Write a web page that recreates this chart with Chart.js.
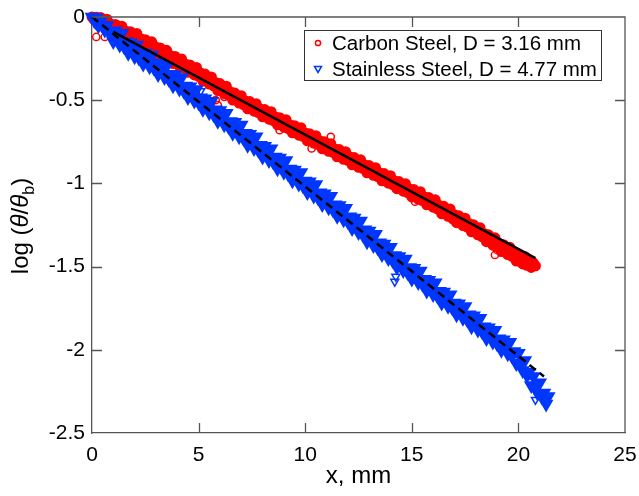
<!DOCTYPE html>
<html>
<head>
<meta charset="utf-8">
<script src="https://cdn.jsdelivr.net/npm/chart.js@4.4.0/dist/chart.umd.min.js"></script>
<style>
  html, body { margin: 0; padding: 0; background: #fff; }
</style>
</head>
<body>
<canvas id="chart" width="639" height="496"></canvas>
<script>
// carbon steel, D = 3.16 mm (red circles) - main band
const carbonX = [0,0.1,0.2,0.3,0.4,0.5,0.6,0.7,0.8,0.9,
  1,1.1,1.2,1.3,1.4,1.5,1.6,1.7,1.8,1.9, 2,2.1,2.2,2.3,2.4,2.5,2.6,2.7,2.8,2.9,
  3,3.1,3.2,3.3,3.4,3.5,3.6,3.7,3.8,3.9, 4,4.1,4.2,4.3,4.4,4.5,4.6,4.7,4.8,4.9,
  5,5.1,5.2,5.3,5.4,5.5,5.6,5.7,5.8,5.9, 6,6.1,6.2,6.3,6.4,6.5,6.6,6.7,6.8,6.9,
  7,7.1,7.2,7.3,7.4,7.5,7.6,7.7,7.8,7.9, 8,8.1,8.2,8.3,8.4,8.5,8.6,8.7,8.8,8.9,
  9,9.1,9.2,9.3,9.4,9.5,9.6,9.7,9.8,9.9, 10,10.1,10.2,10.3,10.4,10.5,10.6,10.7,10.8,10.9,
  11,11.1,11.2,11.3,11.4,11.5,11.6,11.7,11.8,11.9, 12,12.1,12.2,12.3,12.4,12.5,12.6,12.7,12.8,12.9,
  13,13.1,13.2,13.3,13.4,13.5,13.6,13.7,13.8,13.9, 14,14.1,14.2,14.3,14.4,14.5,14.6,14.7,14.8,14.9,
  15,15.1,15.2,15.3,15.4,15.5,15.6,15.7,15.8,15.9, 16,16.1,16.2,16.3,16.4,16.5,16.6,16.7,16.8,16.9,
  17,17.1,17.2,17.3,17.4,17.5,17.6,17.7,17.8,17.9, 18,18.1,18.2,18.3,18.4,18.5,18.6,18.7,18.8,18.9,
  19,19.1,19.2,19.3,19.4,19.5,19.6,19.7,19.8,19.9, 20,20.1,20.2,20.3,20.4,20.5,20.6,20.7,20.8];
const carbonY = [0.000,-0.015,-0.002,-0.048,-0.003,-0.037,-0.059,-0.013,-0.065,-0.043,
  -0.089,-0.045,-0.079,-0.101,-0.055,-0.107,-0.086,-0.132,-0.088,-0.122,
  -0.144,-0.099,-0.152,-0.131,-0.179,-0.136,-0.171,-0.194,-0.149,-0.202,
  -0.181,-0.228,-0.186,-0.221,-0.244,-0.200,-0.253,-0.233,-0.280,-0.237,
  -0.273,-0.296,-0.252,-0.305,-0.284,-0.332,-0.289,-0.324,-0.348,-0.303,
  -0.357,-0.337,-0.385,-0.343,-0.379,-0.403,-0.360,-0.414,-0.394,-0.442,
  -0.400,-0.436,-0.460,-0.416,-0.470,-0.450,-0.499,-0.457,-0.493,-0.517,
  -0.473,-0.526,-0.505,-0.552,-0.508,-0.543,-0.566,-0.521,-0.574,-0.553,
  -0.600,-0.556,-0.591,-0.614,-0.569,-0.622,-0.601,-0.648,-0.605,-0.639,
  -0.662,-0.617,-0.670,-0.649,-0.696,-0.653,-0.688,-0.710,-0.665,-0.718,
  -0.697,-0.744,-0.701,-0.736,-0.758,-0.713,-0.766,-0.745,-0.792,-0.749,
  -0.784,-0.807,-0.761,-0.814,-0.793,-0.840,-0.797,-0.832,-0.855,-0.810,
  -0.862,-0.841,-0.888,-0.845,-0.880,-0.903,-0.858,-0.910,-0.889,-0.936,
  -0.893,-0.928,-0.951,-0.906,-0.959,-0.937,-0.984,-0.941,-0.976,-0.999,
  -0.954,-1.007,-0.986,-1.032,-0.989,-1.024,-1.047,-1.002,-1.055,-1.034,
  -1.081,-1.037,-1.072,-1.095,-1.050,-1.103,-1.082,-1.129,-1.085,-1.120,
  -1.143,-1.099,-1.153,-1.133,-1.181,-1.138,-1.174,-1.198,-1.154,-1.208,
  -1.188,-1.236,-1.194,-1.230,-1.253,-1.209,-1.263,-1.243,-1.291,-1.249,
  -1.285,-1.309,-1.266,-1.321,-1.302,-1.350,-1.309,-1.346,-1.371,-1.327,
  -1.382,-1.362,-1.410,-1.368,-1.404,-1.428,-1.384,-1.439,-1.419,-1.467,
  -1.425,-1.460,-1.484,-1.439,-1.492,-1.472,-1.505,-1.477,-1.495];
// carbon steel stray points below the band
const carbonStrayX = [0.2,0.6,0.9,5.8,5.9,6.2,8.8,10.3,11.2,15.15,16.4,16.9,18.9,19.0];
const carbonStrayY = [-0.120,-0.120,-0.100,-0.500,-0.530,-0.480,-0.680,-0.790,-0.720,-1.110,-1.190,-1.220,-1.430,-1.400];

// stainless steel, D = 4.77 mm (blue triangles) - main band
const stainlessX = [0,0.1,0.2,0.3,0.4,0.5,0.6,0.7,0.8,0.9,
  1,1.1,1.2,1.3,1.4,1.5,1.6,1.7,1.8,1.9, 2,2.1,2.2,2.3,2.4,2.5,2.6,2.7,2.8,2.9,
  3,3.1,3.2,3.3,3.4,3.5,3.6,3.7,3.8,3.9, 4,4.1,4.2,4.3,4.4,4.5,4.6,4.7,4.8,4.9,
  5,5.1,5.2,5.3,5.4,5.5,5.6,5.7,5.8,5.9, 6,6.1,6.2,6.3,6.4,6.5,6.6,6.7,6.8,6.9,
  7,7.1,7.2,7.3,7.4,7.5,7.6,7.7,7.8,7.9, 8,8.1,8.2,8.3,8.4,8.5,8.6,8.7,8.8,8.9,
  9,9.1,9.2,9.3,9.4,9.5,9.6,9.7,9.8,9.9, 10,10.1,10.2,10.3,10.4,10.5,10.6,10.7,10.8,10.9,
  11,11.1,11.2,11.3,11.4,11.5,11.6,11.7,11.8,11.9, 12,12.1,12.2,12.3,12.4,12.5,12.6,12.7,12.8,12.9,
  13,13.1,13.2,13.3,13.4,13.5,13.6,13.7,13.8,13.9, 14,14.1,14.2,14.3,14.4,14.5,14.6,14.7,14.8,14.9,
  15,15.1,15.2,15.3,15.4,15.5,15.6,15.7,15.8,15.9, 16,16.1,16.2,16.3,16.4,16.5,16.6,16.7,16.8,16.9,
  17,17.1,17.2,17.3,17.4,17.5,17.6,17.7,17.8,17.9, 18,18.1,18.2,18.3,18.4,18.5,18.6,18.7,18.8,18.9,
  19,19.1,19.2,19.3,19.4,19.5,19.6,19.7,19.8,19.9, 20,20.1,20.2,20.3,20.4,20.5,20.6,20.7,20.8,20.9,
  21,21.1,21.2,21.3,21.4];
const stainlessY = [0.000,-0.020,-0.005,-0.053,-0.026,-0.056,-0.078,-0.049,-0.094,-0.085,
  -0.147,-0.082,-0.132,-0.168,-0.098,-0.178,-0.148,-0.218,-0.154,-0.204,
  -0.239,-0.168,-0.246,-0.215,-0.283,-0.217,-0.266,-0.299,-0.228,-0.306,
  -0.275,-0.345,-0.280,-0.329,-0.364,-0.294,-0.374,-0.344,-0.413,-0.348,
  -0.398,-0.433,-0.363,-0.444,-0.414,-0.484,-0.419,-0.469,-0.505,-0.435,
  -0.515,-0.485,-0.555,-0.491,-0.541,-0.576,-0.506,-0.586,-0.557,-0.627,
  -0.562,-0.612,-0.647,-0.578,-0.658,-0.628,-0.698,-0.633,-0.684,-0.719,
  -0.649,-0.729,-0.699,-0.770,-0.705,-0.755,-0.790,-0.720,-0.801,-0.771,
  -0.841,-0.776,-0.826,-0.862,-0.792,-0.872,-0.842,-0.912,-0.848,-0.898,
  -0.933,-0.863,-0.943,-0.914,-0.984,-0.919,-0.969,-1.004,-0.935,-1.015,
  -0.985,-1.055,-0.990,-1.041,-1.076,-1.006,-1.086,-1.056,-1.127,-1.062,
  -1.112,-1.147,-1.077,-1.158,-1.128,-1.198,-1.133,-1.183,-1.219,-1.149,
  -1.229,-1.200,-1.271,-1.208,-1.259,-1.295,-1.226,-1.307,-1.279,-1.350,
  -1.286,-1.337,-1.373,-1.305,-1.386,-1.357,-1.428,-1.364,-1.416,-1.452,
  -1.383,-1.463,-1.433,-1.504,-1.439,-1.489,-1.524,-1.454,-1.535,-1.505,
  -1.575,-1.510,-1.560,-1.596,-1.526,-1.606,-1.576,-1.646,-1.582,-1.632,
  -1.667,-1.597,-1.677,-1.648,-1.718,-1.653,-1.703,-1.738,-1.669,-1.749,
  -1.719,-1.789,-1.724,-1.775,-1.810,-1.740,-1.820,-1.790,-1.861,-1.796,
  -1.846,-1.881,-1.811,-1.892,-1.862,-1.932,-1.867,-1.917,-1.953,-1.883,
  -1.963,-1.933,-2.003,-1.939,-1.989,-2.024,-1.955,-2.038,-2.010,-2.083,
  -2.020,-2.080,-2.125,-2.065,-2.155,-2.135,-2.215,-2.160,-2.220,-2.261,
  -2.198,-2.284,-2.260,-2.325,-2.280];
// stainless steel stray points
const stainlessStrayX = [5.1,14.2,14.25,20.8];
const stainlessStrayY = [-0.445,-1.590,-1.560,-2.300];

// fitted lines
const carbonFitX = [1.0, 20.8];
const carbonFitY = [-0.089, -1.449];
const stainlessFitX = [0, 21.2];
const stainlessFitY = [0, -2.16];

const xTicks = [0, 5, 10, 15, 20, 25];
const yTicks = [0, -0.5, -1, -1.5, -2, -2.5];

const RED = '#ff0000';
const BLUE = '#0037ff';
const FONT = '"Liberation Sans", Arial, sans-serif';

function toPoints(xs, ys) {
    return xs.map((x, i) => ({ x: x, y: ys[i] }));
}

function markerSet(label, xs, ys, style, color, filled, order) {
    const tri = style === 'triangle';
    return {
        label: label,
        data: toPoints(xs, ys),
        pointStyle: style,
        pointRotation: tri ? 180 : 0,
        pointRadius: tri ? (filled ? 6.5 : 4.6) : (filled ? 4.5 : 3.6),
        borderWidth: filled ? 2 : 1.5,
        borderColor: color,
        backgroundColor: filled ? color : 'rgba(0,0,0,0)',
        order: order,
        clip: false
    };
}

// axis box on top/right plus inward ticks on all four sides
const frameTicks = {
    id: 'frameTicks',
    afterDatasetsDraw(chart) {
        const { ctx, chartArea: a, scales } = chart;
        ctx.save();
        ctx.strokeStyle = '#555';
        ctx.lineWidth = 1.3;
        ctx.beginPath();
        ctx.moveTo(a.left, a.top);
        ctx.lineTo(a.right, a.top);
        ctx.lineTo(a.right, a.bottom);
        xTicks.forEach(v => {
            if (v <= scales.x.min || v >= scales.x.max) return;
            const px = Math.round(scales.x.getPixelForValue(v)) + 0.5;
            ctx.moveTo(px, a.bottom); ctx.lineTo(px, a.bottom - 10);
            ctx.moveTo(px, a.top); ctx.lineTo(px, a.top + 10);
        });
        yTicks.forEach(v => {
            if (v <= scales.y.min || v >= scales.y.max) return;
            const py = Math.round(scales.y.getPixelForValue(v)) + 0.5;
            ctx.moveTo(a.left, py); ctx.lineTo(a.left + 10, py);
            ctx.moveTo(a.right, py); ctx.lineTo(a.right - 10, py);
        });
        ctx.stroke();
        ctx.restore();
    }
};

// y title with the subscript b
const yTitle = {
    id: 'yTitle',
    afterDraw(chart) {
        const ctx = chart.ctx;
        const parts = [
            { t: 'log (', f: '24px ' + FONT, dy: 0 },
            { t: 'θ', f: 'italic 24px ' + FONT, dy: 0 },
            { t: '/', f: '24px ' + FONT, dy: 0 },
            { t: 'θ', f: 'italic 24px ' + FONT, dy: 0 },
            { t: 'b', f: '16px ' + FONT, dy: 6 },
            { t: ')', f: '24px ' + FONT, dy: 0 }
        ];
        ctx.save();
        let total = 0;
        parts.forEach(p => { ctx.font = p.f; p.w = ctx.measureText(p.t).width; total += p.w; });
        ctx.translate(28, 226);
        ctx.rotate(-Math.PI / 2);
        ctx.fillStyle = '#000';
        ctx.textBaseline = 'alphabetic';
        ctx.textAlign = 'left';
        let x = -total / 2;
        parts.forEach(p => { ctx.font = p.f; ctx.fillText(p.t, x, p.dy); x += p.w; });
        ctx.restore();
    }
};

// boxed legend in the top right corner
const boxLegend = {
    id: 'boxLegend',
    afterDraw(chart) {
        const ctx = chart.ctx;
        const sets = chart.data.datasets.filter(d => d.inLegend);
        ctx.save();
        ctx.fillStyle = '#fff';
        ctx.fillRect(304, 30, 297, 50);
        ctx.strokeStyle = '#333';
        ctx.lineWidth = 1;
        ctx.strokeRect(304.5, 30.5, 297, 50);
        ctx.font = '20.5px ' + FONT;
        ctx.textBaseline = 'alphabetic';
        sets.forEach((d, i) => {
            const cy = 43 + i * 26;
            ctx.strokeStyle = d.borderColor;
            ctx.lineWidth = 1.5;
            ctx.beginPath();
            if (d.pointStyle === 'circle') {
                ctx.arc(318, cy, 2.6, 0, Math.PI * 2);
            } else {
                ctx.moveTo(314.5, cy - 2.5);
                ctx.lineTo(321.5, cy - 2.5);
                ctx.lineTo(318, cy + 3.5);
                ctx.closePath();
            }
            ctx.stroke();
            ctx.fillStyle = '#000';
            ctx.fillText(d.label, 332, cy + 7);
        });
        ctx.restore();
    }
};

const carbonBand = markerSet('Carbon Steel, D = 3.16 mm', carbonX, carbonY, 'circle', RED, true, 4);
carbonBand.inLegend = true;
const stainlessBand = markerSet('Stainless Steel, D = 4.77 mm', stainlessX, stainlessY, 'triangle', BLUE, true, 2);
stainlessBand.inLegend = true;

new Chart(document.getElementById('chart'), {
    type: 'scatter',
    data: {
        datasets: [
            {
                label: 'carbon fit',
                data: toPoints(carbonFitX, carbonFitY),
                showLine: true,
                borderColor: '#000',
                borderWidth: 2.5,
                pointRadius: 0,
                order: 0,
                clip: false
            },
            {
                label: 'stainless fit',
                data: toPoints(stainlessFitX, stainlessFitY),
                showLine: true,
                borderColor: '#000',
                borderWidth: 2.5,
                borderDash: [8, 5],
                pointRadius: 0,
                order: 0,
                clip: false
            },
            carbonBand,
            markerSet('carbon stray', carbonStrayX, carbonStrayY, 'circle', RED, false, 3),
            stainlessBand,
            markerSet('stainless stray', stainlessStrayX, stainlessStrayY, 'triangle', BLUE, false, 1)
        ]
    },
    options: {
        responsive: false,
        animation: false,
        layout: { padding: { left: 0, top: 17, right: 14, bottom: 0 } },
        plugins: {
            legend: { display: false },
            tooltip: { enabled: false }
        },
        scales: {
            x: {
                type: 'linear',
                min: 0,
                max: 25,
                afterFit: s => { s.height = 63; s.paddingLeft = 0; s.paddingRight = 0; },
                afterBuildTicks: s => { s.ticks = xTicks.map(v => ({ value: v })); },
                grid: { display: false, drawTicks: false },
                border: { display: true, color: '#555', width: 1.3 },
                ticks: {
                    color: '#000',
                    padding: 10,
                    font: { family: FONT, size: 21 },
                    callback: v => String(v)
                },
                title: {
                    display: true,
                    text: 'x, mm',
                    color: '#000',
                    font: { family: FONT, size: 24 },
                    padding: { top: 0, bottom: 5 }
                }
            },
            y: {
                type: 'linear',
                min: -2.5,
                max: 0,
                afterFit: s => { s.width = 92; s.paddingTop = 0; s.paddingBottom = 0; },
                afterBuildTicks: s => { s.ticks = yTicks.map(v => ({ value: v })); },
                grid: { display: false, drawTicks: false },
                border: { display: true, color: '#555', width: 1.3 },
                ticks: {
                    color: '#000',
                    padding: 7,
                    font: { family: FONT, size: 21 },
                    callback: v => String(Math.round(v * 10) / 10)
                }
            }
        }
    },
    plugins: [frameTicks, yTitle, boxLegend]
});
</script>
</body>
</html>
